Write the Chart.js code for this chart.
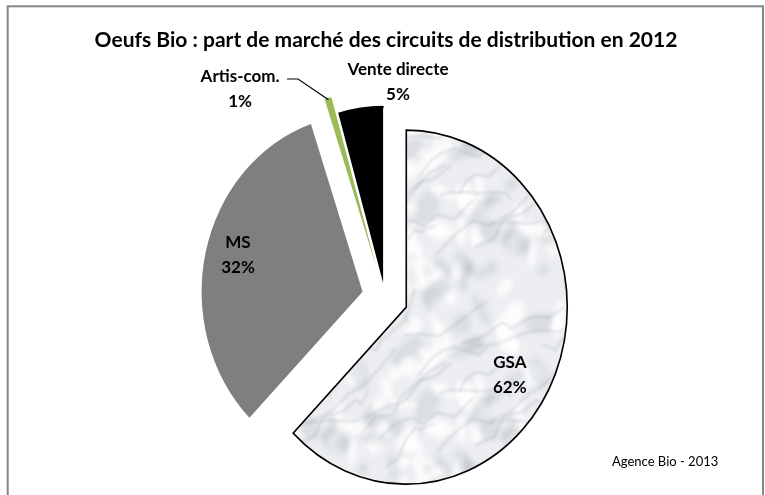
<!DOCTYPE html>
<html lang="fr">
<head>
<meta charset="utf-8">
<title>Oeufs Bio - circuits de distribution 2012</title>
<script src="https://cdn.jsdelivr.net/npm/chart.js@4.4.1/dist/chart.umd.min.js"></script>
<style>
  html, body { margin: 0; padding: 0; background: #fff; }
  #wrap { width: 765px; height: 495px; }
</style>
</head>
<body>
<div id="wrap"><canvas id="pie" width="765" height="495"></canvas></div>
<script>
// données (parts de marché, %)
const categories = ['GSA', 'MS', 'Artis-com.', 'Vente directe'];
const shares = [62.4, 32.4, 0.7, 4.5];
const sliceColors = [null, '#7f7f7f', '#9bbb59', '#000000'];
const sliceExplode = [23, 23, 29, 13.5]; // décalage de chaque part, en px

const titleText = 'Oeufs Bio : part de marché des circuits de distribution en 2012';
const sourceText = 'Agence Bio - 2013';

// placement des étiquettes : angle (deg, sens horaire depuis le haut) et distance / rayon
const labelAngles = [119.4, 284.7, 322.6, 3.8];
const labelRadii = [0.89, 0.944, 1.482, 1.219];

const RADIUS = 161;
const SQUASH = 1.1; // l'image d'origine est étirée verticalement

const canvas = document.getElementById('pie');
const ctx = canvas.getContext('2d');

// texture "marbre" pour GSA
function marblePattern() {
  const S = 180;
  const c = document.createElement('canvas');
  c.width = S; c.height = S;
  const g = c.getContext('2d');
  const h = n => { const s = Math.sin(n * 127.1 + 11.7) * 43758.5453; return s - Math.floor(s); };
  g.fillStyle = '#eceef1';
  g.fillRect(0, 0, S, S);
  const wraps = [-S, 0, S];
  g.filter = 'blur(2.5px)';
  for (let i = 0; i < 80; i++) {
    g.fillStyle = h(i) > 0.45 ? 'rgba(255,255,255,0.8)' : 'rgba(180,185,192,0.3)';
    for (const ox of wraps) for (const oy of wraps) {
      g.beginPath();
      g.ellipse(h(i + 1) * S + ox, h(i + 2) * S + oy, 5 + h(i + 3) * 14, 3 + h(i + 4) * 7, h(i + 5) * 3, 0, 2 * Math.PI);
      g.fill();
    }
  }
  g.filter = 'blur(1px)';
  g.strokeStyle = 'rgba(150,156,165,0.35)';
  g.lineWidth = 1.5;
  for (let i = 0; i < 14; i++) {
    const pts = [];
    let x = h(i + 100) * S, y = h(i + 200) * S;
    pts.push([x, y]);
    for (let k = 0; k < 6; k++) {
      x += 4 + h(i * 7 + k) * 18;
      y += (h(i * 5 + k + 50) - 0.5) * 24 - 6;
      pts.push([x, y]);
    }
    for (const ox of wraps) for (const oy of wraps) {
      g.beginPath();
      pts.forEach((p, j) => j ? g.lineTo(p[0] + ox, p[1] + oy) : g.moveTo(p[0] + ox, p[1] + oy));
      g.stroke();
    }
  }
  return ctx.createPattern(c, 'repeat');
}
sliceColors[0] = marblePattern();

function pctText(v) { return Math.round(v) + '%'; }

// cadre gris + titre + source
const framePlugin = {
  id: 'frame',
  beforeDraw(chart) {
    const c = chart.ctx;
    c.save();
    c.strokeStyle = '#858585';
    c.lineWidth = 2;
    c.strokeRect(7.7, 6.3, 755.3, 520);
    c.restore();
  },
  afterDraw(chart) {
    const c = chart.ctx;
    c.save();
    c.fillStyle = '#000';
    c.textAlign = 'center';
    c.textBaseline = 'middle';
    c.font = 'bold 21px Lato';
    c.fillText(titleText, 386, 40);
    c.font = '13px Lato';
    c.textAlign = 'left';
    c.fillText(sourceText, 612, 462);
    c.restore();
  }
};

// parts éclatées : on décale chaque arc d'une distance fixe le long de sa bissectrice
const explodePlugin = {
  id: 'explode',
  afterDatasetsUpdate(chart) {
    chart.getDatasetMeta(0).data.forEach((arc, i) => {
      if (arc._exploded) return;
      const baseDraw = arc.draw;
      arc.draw = function (c, area) {
        const mid = (this.startAngle + this.endAngle) / 2;
        c.save();
        c.translate(Math.cos(mid) * sliceExplode[i], Math.sin(mid) * sliceExplode[i]);
        baseDraw.call(this, c, area);
        c.restore();
      };
      arc._exploded = true;
    });
  }
};

// écrase légèrement le camembert verticalement, comme l'original
const squashPlugin = {
  id: 'squash',
  beforeDatasetsDraw(chart) {
    const a = chart.chartArea;
    const cx = (a.left + a.right) / 2, cy = (a.top + a.bottom) / 2;
    chart.ctx.save();
    chart.ctx.translate(cx, cy);
    chart.ctx.scale(1, SQUASH);
    chart.ctx.translate(-cx, -cy);
  },
  afterDatasetsDraw(chart) {
    chart.ctx.restore();
    drawLabels(chart);
  }
};

function arcPoint(arc, angleDeg, dist) {
  const rad = angleDeg * Math.PI / 180;
  return { x: arc.x + Math.sin(rad) * dist, y: arc.y - Math.cos(rad) * dist * SQUASH };
}

// point extérieur d'une part (décalage compris), en coordonnées écran
function outerMid(arc, i, k) {
  const mid = (arc.startAngle + arc.endAngle) / 2;
  const d = sliceExplode[i] + arc.outerRadius * k;
  return { x: arc.x + Math.cos(mid) * d, y: arc.y + Math.sin(mid) * d * SQUASH };
}

function drawLabels(chart) {
  const c = chart.ctx;
  const arcs = chart.getDatasetMeta(0).data;
  c.save();
  c.fillStyle = '#000';
  c.strokeStyle = '#000';
  c.lineWidth = 1.2;
  c.font = 'bold 17px Lato';
  c.textAlign = 'center';
  c.textBaseline = 'middle';
  const centers = arcs.map((arc, i) => arcPoint(arc, labelAngles[i], labelRadii[i] * arc.outerRadius));
  // traits de rappel pour les petites parts
  const a = outerMid(arcs[2], 2, 0.99), la = centers[2];
  c.beginPath();
  c.moveTo(a.x, a.y);
  c.lineTo(la.x + 58, la.y - 10);
  c.lineTo(la.x + 47, la.y - 10);
  c.stroke();
  const v = outerMid(arcs[3], 3, 0.97), lv = centers[3];
  c.beginPath();
  c.moveTo(v.x, v.y);
  c.lineTo(lv.x - 23, lv.y + 25);
  c.lineTo(lv.x - 14, lv.y + 25);
  c.stroke();
  centers.forEach((p, i) => {
    c.fillText(categories[i], p.x, p.y - 12.5);
    c.fillText(pctText(shares[i]), p.x, p.y + 12.5);
  });
  c.restore();
}

new Chart(ctx, {
  type: 'pie',
  data: {
    labels: categories,
    datasets: [{
      data: shares,
      backgroundColor: sliceColors,
      borderColor: '#000',
      borderWidth: [1.6, 0, 0, 0],
      borderJoinStyle: 'miter',
      clip: false
    }]
  },
  options: {
    responsive: false,
    animation: false,
    radius: RADIUS,
    layout: { padding: { top: 120, bottom: 20, left: 205, right: 200 } },
    plugins: {
      legend: { display: false },
      title: { display: false },
      tooltip: { enabled: false }
    }
  },
  plugins: [framePlugin, explodePlugin, squashPlugin]
});
</script>
</body>
</html>
